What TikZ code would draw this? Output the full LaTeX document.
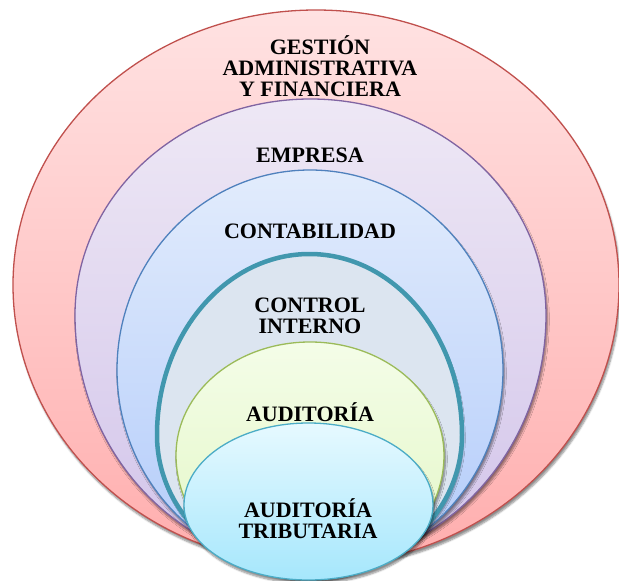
\documentclass[tikz,border=0pt]{standalone}
\usepackage{fontspec}
\setmainfont{Liberation Serif}
\usetikzlibrary{shadows.blur}

\definecolor{gestTop}{HTML}{FFE2E2}\definecolor{gestBot}{HTML}{FFAEAE}\definecolor{gestLine}{HTML}{C0504D}
\definecolor{empTop}{HTML}{EEE8F5}\definecolor{empBot}{HTML}{D2C4EA}\definecolor{empLine}{HTML}{8064A2}
\definecolor{conTop}{HTML}{E2ECFC}\definecolor{conBot}{HTML}{B2CBFA}\definecolor{conLine}{HTML}{4F81BD}
\definecolor{ctrlFill}{HTML}{DCE5F0}\definecolor{ctrlLine}{HTML}{4197AE}
\definecolor{audTop}{HTML}{F4FDE8}\definecolor{audBot}{HTML}{E2F6C4}\definecolor{audLine}{HTML}{9BBB59}
\definecolor{tribTop}{HTML}{E6F9FF}\definecolor{tribBot}{HTML}{A6E7FC}\definecolor{tribLine}{HTML}{4BACC6}

% egg: centre x, top y, y of widest point, half width, bottom y
\newcommand{\eggshape}[5]{(#1,#2) .. controls +({-0.5523*#4},0) and +(0,{-0.5523*(#3-#2)}) .. (#1-#4,#3)
  .. controls +(0,{0.5523*(#5-#3)}) and +({-0.5523*#4},0) .. (#1,#5)
  .. controls +({0.5523*#4},0) and +(0,{0.5523*(#5-#3)}) .. (#1+#4,#3)
  .. controls +(0,{-0.5523*(#3-#2)}) and +({0.5523*#4},0) .. (#1,#2) -- cycle}

\tikzset{
  layer/.style={line width=1.3pt, blur shadow={shadow xshift=1.5pt, shadow yshift=-3.5pt, shadow blur steps=6, shadow opacity=45}},
  lbl/.style={font=\fontsize{22}{21}\selectfont\bfseries, align=center, text=black, inner sep=0pt}
}

\begin{document}
\begin{tikzpicture}[x=1pt, y=-1pt]
	\useasboundingbox (0,0) rectangle (619,581);
	\draw[layer, draw=gestLine, top color=gestTop, bottom color=gestBot] \eggshape{316}{10}{285}{303}{565};
	\node[lbl] (gestion) at (320,66) {GESTIÓN\\ADMINISTRATIVA\\Y FINANCIERA};
	\draw[layer, draw=empLine, top color=empTop, bottom color=empBot] \eggshape{310.5}{99}{315}{235.5}{565};
	\node[lbl] (empresa) at (310,155) {EMPRESA};
	\draw[layer, draw=conLine, top color=conTop, bottom color=conBot] \eggshape{310}{170}{370}{193}{570};
	\node[lbl] (contab) at (310,231) {CONTABILIDAD};
	\draw[layer, line width=4.5pt, draw=ctrlLine, fill=ctrlFill] \eggshape{309.5}{254}{435}{152.5}{576};
	\node[lbl] (control) at (310,316) {CONTROL\\INTERNO};
	\draw[layer, draw=audLine, top color=audTop, bottom color=audBot] \eggshape{310}{342}{455}{134}{578};
	\node[lbl] (audit) at (310,412) {AUDITORÍA};
	\draw[layer, draw=tribLine, top color=tribTop, bottom color=tribBot] \eggshape{308.5}{423}{505}{124.5}{580};
	\node[lbl] (tribut) at (308,519) {AUDITORÍA\\TRIBUTARIA};
\end{tikzpicture}
\end{document}
